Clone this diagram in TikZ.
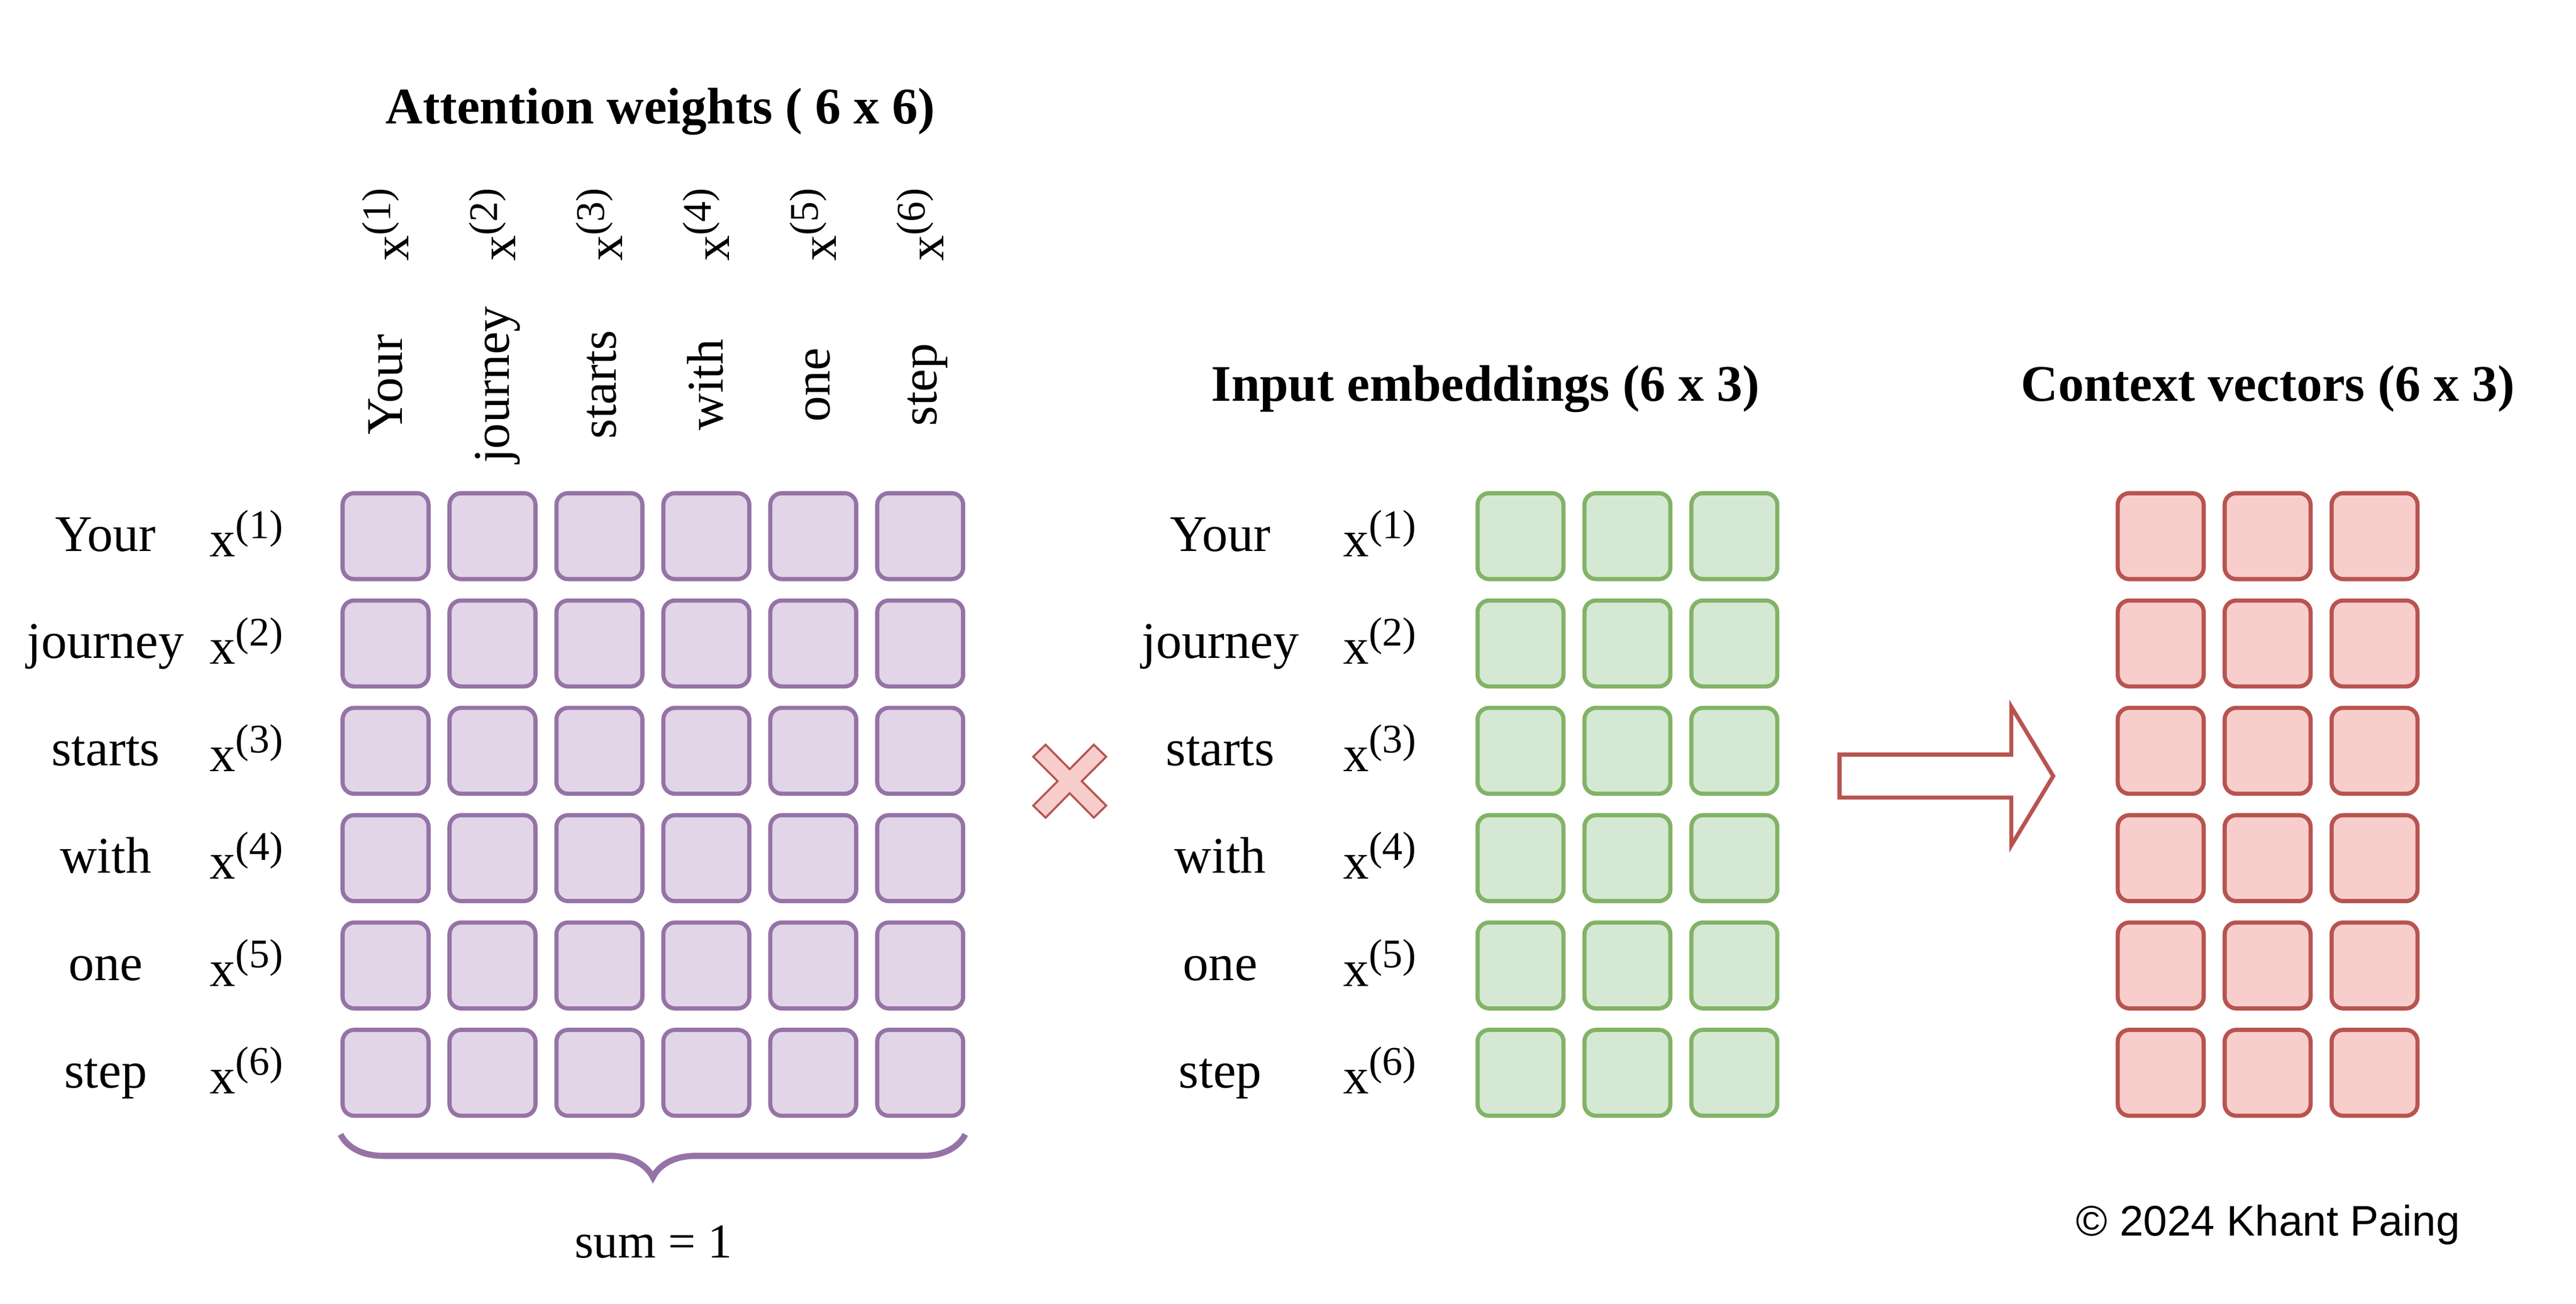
\documentclass[tikz,border=0pt]{standalone}
\usepackage{fontspec}
\setmainfont{Liberation Serif}
\newfontfamily\signfont{Liberation Sans}
\usepackage{xcolor}
\usepackage{tikz}
\usetikzlibrary{positioning,decorations.pathreplacing}

\newcommand{\xtok}[1]{x\raisebox{0.36em}{\fontsize{7}{8}\selectfont(#1)}}

\begin{document}
\begin{tikzpicture}[x=0.01cm,y=-0.01cm]
	\definecolor{attfill}{HTML}{E1D5E7}
	\definecolor{attline}{HTML}{9673A6}
	\definecolor{embfill}{HTML}{D5E8D4}
	\definecolor{embline}{HTML}{82B366}
	\definecolor{ctxfill}{HTML}{F8CECC}
	\definecolor{ctxline}{HTML}{B85450}
	\tikzset{
		cell/.style={rectangle, rounded corners=0.07cm, line width=0.72pt,
			minimum width=0.52cm, minimum height=0.52cm, inner sep=0pt},
		attcell/.style={cell, draw=attline, fill=attfill},
		embcell/.style={cell, draw=embline, fill=embfill},
		ctxcell/.style={cell, draw=ctxline, fill=ctxfill},
		lbl/.style={inner sep=0pt, anchor=base, font=\fontsize{8.85}{10}\selectfont},
		ttl/.style={inner sep=0pt, anchor=base, font=\fontsize{8.85}{10}\selectfont\bfseries},
		sumbrace/.style={decorate, decoration={brace, mirror, amplitude=0.26cm},
			draw=attline, line width=1.05pt},
		mulx/.style={fill=ctxfill, draw=ctxline, line width=0.35pt},
		bigarrow/.style={fill=white, draw=ctxline, line width=0.7pt}
	}
	\useasboundingbox (0,0) rectangle (1560,789.7);
	
	% ATTENTION WEIGHTS
	\node[ttl] (atttitle) at (400,75) {Attention weights ( 6 x 6)};
	\foreach \w [count=\j] in {Your,journey,starts,with,one,step}{
		\node[lbl, rotate=90] (colw-\j) at ({178.75+64.75*\j}, 233) {\w};
		\node[lbl, rotate=90] (colx-\j) at ({182.75+64.75*\j}, 136) {\xtok{\j}};
	}
	\foreach \w [count=\i] in {Your,journey,starts,with,one,step}{
		\node[lbl] (attw-\i) at (64, {268.7+65*\i}) {\w};
		\node[lbl] (attx-\i) at (149.3, {272.2+65*\i}) {\xtok{\i}};
		\foreach \j in {1,...,6}
			\node[attcell] (att-\i-\j) at ({168.75+64.75*\j}, {259.7+65*\i}) {};
	}
	\draw[sumbrace] ([yshift=-0.1cm]att-6-1.south west) -- ([yshift=-0.1cm]att-6-6.south east);
	\node[lbl, font=\fontsize{8.4}{10}\selectfont] (sumlbl) at (395.7,761.7) {sum = 1};
	
	% TIMES
	\draw[mulx, shift={(647.8,473.1)}] (-22.1,-14.8) -- (-14.6,-22.1) -- (0,-7.3)
		-- (14.6,-22.1) -- (22.1,-14.8) -- (7.3,0) -- (22.1,14.8) -- (14.6,22.1)
		-- (0,7.3) -- (-14.6,22.1) -- (-22.1,14.8) -- (-7.3,0) -- cycle;
	
	% INPUT EMBEDDINGS
	\node[ttl] (embtitle) at (899.6,243) {Input embeddings (6 x 3)};
	\foreach \w [count=\i] in {Your,journey,starts,with,one,step}{
		\node[lbl] (embw-\i) at (739, {268.7+65*\i}) {\w};
		\node[lbl] (embx-\i) at (835.5, {272.2+65*\i}) {\xtok{\i}};
		\foreach \j in {1,2,3}
			\node[embcell] (emb-\i-\j) at ({856.05+64.75*\j}, {259.7+65*\i}) {};
	}
	
	% ARROW
	\draw[bigarrow] (1114,457) -- (1218,457) -- (1218,428) -- (1243.4,470)
		-- (1218,512) -- (1218,483) -- (1114,483) -- cycle;
	
	% CONTEXT VECTORS
	\node[ttl] (ctxtitle) at (1373.5,243) {Context vectors (6 x 3)};
	\foreach \i in {1,...,6}
		\foreach \j in {1,2,3}
			\node[ctxcell] (ctx-\i-\j) at ({1243.75+64.75*\j}, {259.7+65*\i}) {};
	
	\node[inner sep=0pt, anchor=base, font=\signfont\fontsize{7.37}{9}\selectfont] (sign) at (1373.5,748.6) {© 2024 Khant Paing};
\end{tikzpicture}
\end{document}
